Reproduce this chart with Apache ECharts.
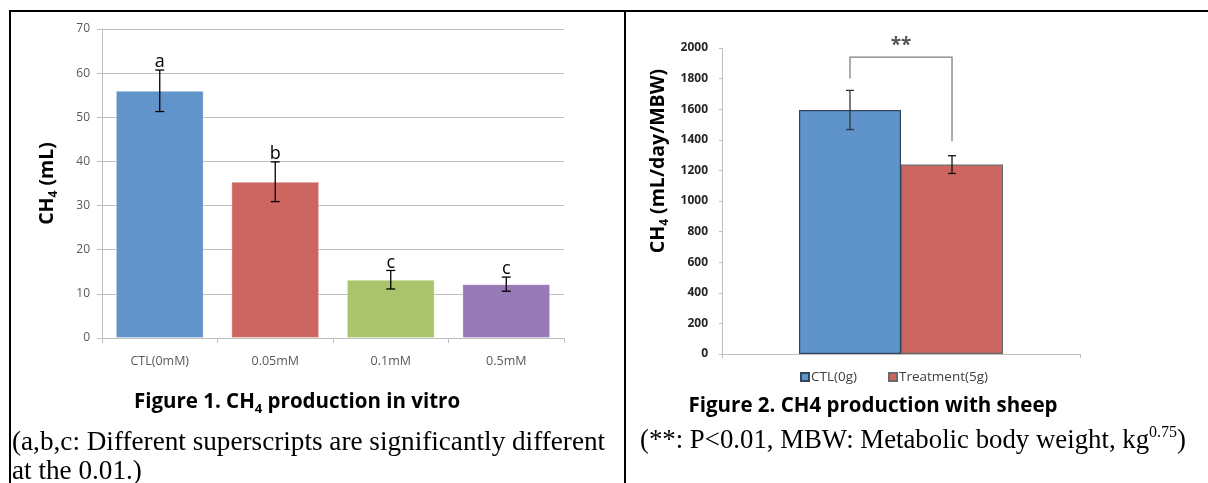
<!DOCTYPE html>
<html><head><meta charset="utf-8">
<script src="https://cdn.jsdelivr.net/npm/echarts@6/dist/echarts.min.js"></script>
<style>html,body{margin:0;padding:0;background:#fff}#c{width:1208px;height:483px}</style>
</head><body><div id="c"></div>
<script>
// ---- Figure 1 data ----
const fig1Categories = ['CTL(0mM)', '0.05mM', '0.1mM', '0.5mM'];
const fig1Values = [56.0, 35.4, 13.2, 12.2];
const fig1Errors = [4.7, 4.5, 2.1, 1.6];
const fig1Letters = ['a', 'b', 'c', 'c'];
const fig1Colors = ['#6194CA', '#CD6661', '#AAC46B', '#967BB6'];
// ---- Figure 2 data ----
const fig2Groups = ['CTL(0g)', 'Treatment(5g)'];
const fig2Values = [1595, 1238];
const fig2Errors = [128, 58];
const fig2Colors = ['#5F94CB', '#CD6661'];
const fig2Borders = ['#34445c', '#6a6a6a'];
const fig2BracketEnds = [1800, 1390];
const fig2BracketTop = 1940;
const fig2BracketLabel = '**';

const SANS = '"Open Sans", "Liberation Sans", sans-serif';
const SERIF = '"Liberation Serif", "DejaVu Serif", serif';

const chart = echarts.init(document.getElementById('c'), null, {renderer: 'canvas'});

function fig1ErrRender(params, api) {
  const x = api.value(0);
  const lo = api.coord([x, api.value(1)]);
  const hi = api.coord([x, api.value(2)]);
  const cap = 4.5;
  const st = {stroke: '#000', lineWidth: 1.3};
  return {type: 'group', children: [
    {type: 'line', shape: {x1: lo[0], y1: lo[1], x2: hi[0], y2: hi[1]}, style: st},
    {type: 'line', shape: {x1: lo[0] - cap, y1: lo[1], x2: lo[0] + cap, y2: lo[1]}, style: st},
    {type: 'line', shape: {x1: hi[0] - cap, y1: hi[1], x2: hi[0] + cap, y2: hi[1]}, style: st},
    {type: 'text', x: hi[0], y: hi[1] + 1, style: {text: fig1Letters[params.dataIndex], textAlign: 'center', textVerticalAlign: 'bottom', fontSize: 18, fontFamily: SANS, fill: '#000'}}
  ]};
}

const BAR_GAP2 = 0.43;
function fig2ErrRender(params, api) {
  const idx = api.value(3);
  const band = api.size([1, 0])[0];
  const bw = band * (1 - BAR_GAP2) / 2;
  const c = api.coord([api.value(0), api.value(1)]);
  const xc = c[0] + (idx - 0.5) * bw;
  const lo = api.coord([api.value(0), api.value(1)])[1];
  const hi = api.coord([api.value(0), api.value(2)])[1];
  const cap = 4;
  const st = {stroke: idx === 0 ? '#333' : '#111', lineWidth: 1.3};
  return {type: 'group', children: [
    {type: 'line', shape: {x1: xc, y1: lo, x2: xc, y2: hi}, style: st},
    {type: 'line', shape: {x1: xc - cap, y1: lo, x2: xc + cap, y2: lo}, style: st},
    {type: 'line', shape: {x1: xc - cap, y1: hi, x2: xc + cap, y2: hi}, style: st}
  ]};
}

function fig2BracketRender(params, api) {
  const band = api.size([1, 0])[0];
  const bw = band * (1 - BAR_GAP2) / 2;
  const cx = api.coord([api.value(0), 0])[0];
  const xl = cx - 0.5 * bw, xr = cx + 0.5 * bw;
  const yl = api.coord([api.value(0), api.value(1)])[1];
  const yr = api.coord([api.value(0), api.value(2)])[1];
  const yt = api.coord([api.value(0), api.value(3)])[1];
  return {type: 'group', children: [
    {type: 'polyline', shape: {points: [[xl, yl], [xl, yt], [xr, yt], [xr, yr]]}, style: {stroke: '#7f7f7f', lineWidth: 1.3, fill: null}},
    {type: 'text', x: cx, y: yt - 12, style: {text: fig2BracketLabel, textAlign: 'center', textVerticalAlign: 'middle', fontSize: 19, fontWeight: 'bold', fontFamily: SANS, fill: '#555'}}
  ]};
}

const nameRich = {
  a: {fontSize: 19.5, fontWeight: 'bold', fontFamily: SANS, color: '#000', lineHeight: 26},
  s: {fontSize: 12, fontWeight: 'bold', fontFamily: SANS, color: '#000', verticalAlign: 'bottom', lineHeight: 14}
};

const option = {
  animation: false,
  backgroundColor: '#fff',
  grid: [
    {left: 102, top: 29, width: 462, height: 309, containLabel: false, outerBoundsMode: 'none'},
    {left: 722, top: 48, width: 358, height: 306, containLabel: false, outerBoundsMode: 'none'}
  ],
  xAxis: [
    {type: 'category', gridIndex: 0, data: fig1Categories,
     axisLine: {lineStyle: {color: '#bfbfbf', width: 1}},
     axisTick: {show: true, length: 5, lineStyle: {color: '#bfbfbf'}},
     axisLabel: {color: '#595959', fontSize: 12.5, fontFamily: SANS, margin: 17}},
    {type: 'category', gridIndex: 1, data: ['g'],
     axisLine: {lineStyle: {color: '#bfbfbf', width: 1}},
     axisTick: {show: true, length: 4, lineStyle: {color: '#bfbfbf'}},
     axisLabel: {show: false}}
  ],
  yAxis: [
    {type: 'value', gridIndex: 0, min: 0, max: 70, interval: 10,
     name: '{a|CH}{s|4}{a| (mL)}', nameLocation: 'middle', nameRotate: 90, nameGap: 42,
     nameTextStyle: {rich: nameRich},
     axisLine: {show: true, lineStyle: {color: '#bfbfbf', width: 1}},
     axisTick: {show: true, length: 5, lineStyle: {color: '#bfbfbf'}},
     splitLine: {show: true, lineStyle: {color: '#bfbfbf', width: 1}},
     axisLabel: {color: '#595959', fontSize: 12, fontFamily: SANS, margin: 12}},
    {type: 'value', gridIndex: 1, min: 0, max: 2000, interval: 200,
     name: '{a|CH}{s|4}{a| (mL/day/MBW)}', nameLocation: 'middle', nameRotate: 90, nameGap: 51,
     nameTextStyle: {padding: [0, 0, 0, 80], rich: nameRich},
     axisLine: {show: true, lineStyle: {color: '#bfbfbf', width: 1}},
     axisTick: {show: true, length: 3, lineStyle: {color: '#bfbfbf'}},
     splitLine: {show: false},
     axisLabel: {color: '#262626', fontSize: 12, fontWeight: 'bold', fontFamily: SANS, margin: 14,
                 formatter: v => String(v)}}
  ],
  legend: {
    data: fig2Groups, left: 795, top: 365, icon: 'rect', itemWidth: 8, itemHeight: 8, itemGap: 31,
    textStyle: {color: '#404040', fontSize: 13.5, fontFamily: SANS, padding: [0, 0, 0, -3]}
  },
  series: [
    {type: 'bar', xAxisIndex: 0, yAxisIndex: 0, barCategoryGap: '24%',
     data: fig1Values.map((v, i) => ({value: v, itemStyle: {color: fig1Colors[i], borderColor: 'rgba(255,255,255,0.35)', borderWidth: 1}}))},
    {type: 'custom', xAxisIndex: 0, yAxisIndex: 0, renderItem: fig1ErrRender, clip: false, z: 5,
     data: fig1Values.map((v, i) => [i, v - fig1Errors[i], v + fig1Errors[i]])},
    {type: 'bar', name: fig2Groups[0], xAxisIndex: 1, yAxisIndex: 1, barGap: '0%', barCategoryGap: (BAR_GAP2 * 100) + '%',
     itemStyle: {color: fig2Colors[0], borderColor: fig2Borders[0], borderWidth: 1.2},
     data: [fig2Values[0]]},
    {type: 'bar', name: fig2Groups[1], xAxisIndex: 1, yAxisIndex: 1, barGap: '0%', barCategoryGap: (BAR_GAP2 * 100) + '%',
     itemStyle: {color: fig2Colors[1], borderColor: fig2Borders[1], borderWidth: 1.2},
     data: [fig2Values[1]]},
    {type: 'custom', xAxisIndex: 1, yAxisIndex: 1, renderItem: fig2ErrRender, clip: false, z: 5,
     data: fig2Values.map((v, i) => [0, v - fig2Errors[i], v + fig2Errors[i], i])},
    {type: 'custom', xAxisIndex: 1, yAxisIndex: 1, renderItem: fig2BracketRender, clip: false, z: 5,
     data: [[0, fig2BracketEnds[0], fig2BracketEnds[1], fig2BracketTop]]}
  ],
  graphic: [
    {type: 'line', shape: {x1: 9, y1: 11, x2: 1208, y2: 11}, style: {stroke: '#000', lineWidth: 2}},
    {type: 'line', shape: {x1: 10, y1: 10, x2: 10, y2: 483}, style: {stroke: '#000', lineWidth: 2}},
    {type: 'line', shape: {x1: 625, y1: 10, x2: 625, y2: 483}, style: {stroke: '#000', lineWidth: 2}},
    {type: 'text', x: 297, y: 402, style: {
      text: '{b|Figure 1. CH}{s|4}{b| production in vitro}', align: 'center', verticalAlign: 'middle',
      rich: {b: {fontSize: 20.5, fontWeight: 'bold', fontFamily: SANS, fill: '#000', lineHeight: 28},
             s: {fontSize: 13, fontWeight: 'bold', fontFamily: SANS, fill: '#000', verticalAlign: 'bottom', lineHeight: 14}}}},
    {type: 'text', x: 873, y: 406, style: {
      text: 'Figure 2. CH4 production with sheep', align: 'center', verticalAlign: 'middle',
      fontSize: 20.5, fontWeight: 'bold', fontFamily: SANS, fill: '#000'}},
    {type: 'text', x: 12, y: 443, style: {
      text: '(a,b,c: Different superscripts are significantly different', align: 'left', verticalAlign: 'middle',
      fontSize: 27.2, fontFamily: SERIF, fill: '#000'}},
    {type: 'text', x: 12, y: 472, style: {
      text: 'at the 0.01.)', align: 'left', verticalAlign: 'middle',
      fontSize: 27.2, fontFamily: SERIF, fill: '#000'}},
    {type: 'text', x: 640, y: 441, style: {
      text: '{n|(**: P<0.01, MBW: Metabolic body weight, kg}{p|0.75}{n|)}', align: 'left', verticalAlign: 'middle',
      rich: {n: {fontSize: 26.8, fontFamily: SERIF, fill: '#000', lineHeight: 32},
             p: {fontSize: 16, fontFamily: SERIF, fill: '#000', verticalAlign: 'top', lineHeight: 16}}}}
  ]
};
chart.setOption(option);
</script>
</body></html>
